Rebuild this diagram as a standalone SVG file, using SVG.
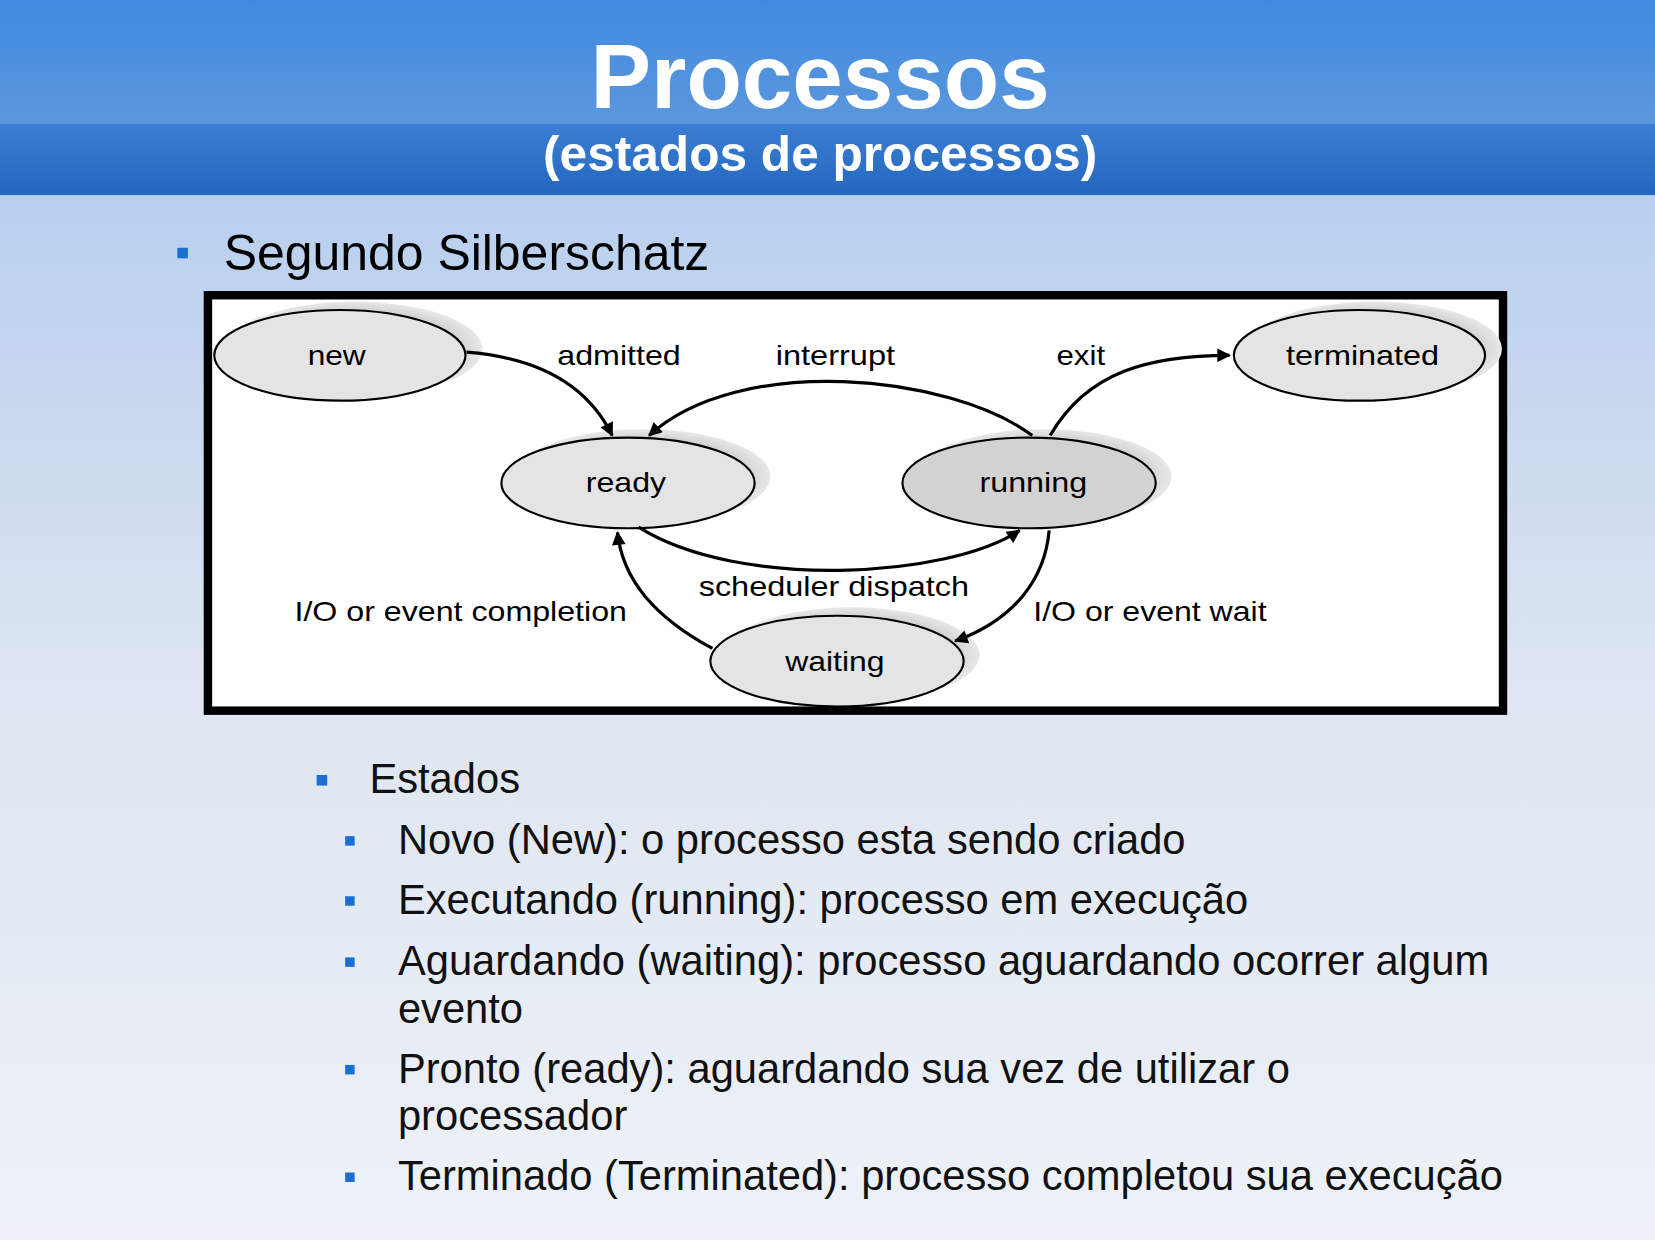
<svg xmlns="http://www.w3.org/2000/svg" width="1655" height="1240" viewBox="0 0 1655 1240">
<defs>
<linearGradient id="bg" x1="0" y1="0" x2="0" y2="1"><stop offset="0" stop-color="#a9c6ee"/><stop offset="0.55" stop-color="#dde5f0"/><stop offset="1" stop-color="#eef2f8"/></linearGradient>
<linearGradient id="hd1" x1="0" y1="0" x2="0" y2="1"><stop offset="0" stop-color="#3f8ae0"/><stop offset="1" stop-color="#5b97dc"/></linearGradient>
<linearGradient id="hd2" x1="0" y1="0" x2="0" y2="1"><stop offset="0" stop-color="#3a7fd3"/><stop offset="1" stop-color="#2566bf"/></linearGradient>
<radialGradient id="sh" cx="0.5" cy="0.5" r="0.5"><stop offset="0.6" stop-color="#b8b8b8"/><stop offset="1" stop-color="#e8e8e8"/></radialGradient>
<marker id="ah" viewBox="0 0 10 10" refX="9" refY="5" markerWidth="16" markerHeight="13" orient="auto" markerUnits="userSpaceOnUse"><path d="M0,0 L10,5 L0,10 z" fill="#000"/></marker>
<style>
.t{font-family:"Liberation Sans",Arial,sans-serif;fill:#000}
.n{font-family:"Liberation Sans",Arial,sans-serif;font-size:26px;fill:#000;text-anchor:middle}
.l{font-family:"Liberation Sans",Arial,sans-serif;font-size:26px;fill:#000}
.e{fill:#e4e4e4;stroke:#000;stroke-width:2}
.s{fill:url(#sh)}
.c{fill:none;stroke:#000;stroke-width:3;marker-end:url(#ah)}
.b{fill:#1a6fd1}
.li{font-family:"Liberation Sans",Arial,sans-serif;font-size:39.5px;fill:#111}
</style>
</defs>
<g transform="scale(1.05548 1.0544)">
<rect width="1568" height="1176" fill="url(#bg)"/>
<rect width="1568" height="117" fill="url(#hd1)"/>
<rect y="117" width="1568" height="68" fill="url(#hd2)"/>
<text x="777" y="102" text-anchor="middle" font-family="Liberation Sans,Arial,sans-serif" font-weight="bold" font-size="86" fill="#fff">Processos</text>
<text x="777" y="162" text-anchor="middle" font-family="Liberation Sans,Arial,sans-serif" font-weight="bold" font-size="47" fill="#fff">(estados de processos)</text>
<rect class="b" x="168" y="235" width="10" height="10"/>
<text class="t" x="212" y="256" font-size="47.3">Segundo Silberschatz</text>
<rect x="197" y="280" width="1227" height="394" fill="#fff" stroke="#000" stroke-width="8"/>
<g id="new"><ellipse class="s" cx="336" cy="331" rx="121" ry="45"/><ellipse class="e" cx="322" cy="337" rx="119" ry="43"/><text class="n" x="319" y="346" textLength="55" lengthAdjust="spacingAndGlyphs">new</text></g>
<g id="ready"><ellipse class="s" cx="609" cy="452" rx="121" ry="45"/><ellipse class="e" cx="595" cy="458" rx="120" ry="43"/><text class="n" x="593" y="467" textLength="76" lengthAdjust="spacingAndGlyphs">ready</text></g>
<g id="running"><ellipse class="s" cx="989" cy="452" rx="121" ry="45"/><ellipse class="e" cx="975" cy="458" rx="120" ry="43" style="fill:#d2d2d2"/><text class="n" x="979" y="467" textLength="102" lengthAdjust="spacingAndGlyphs">running</text></g>
<g id="terminated"><ellipse class="s" cx="1302" cy="331" rx="121" ry="45"/><ellipse class="e" cx="1288" cy="337" rx="119" ry="43"/><text class="n" x="1291" y="346" textLength="145" lengthAdjust="spacingAndGlyphs">terminated</text></g>
<g id="waiting"><ellipse class="s" cx="807" cy="621" rx="121" ry="45"/><ellipse class="e" cx="793" cy="627" rx="120" ry="43"/><text class="n" x="791" y="636" textLength="94" lengthAdjust="spacingAndGlyphs">waiting</text></g>
<g id="connectors">
<path class="c" d="M442,334 C520,340 560,372 580,413"/>
<path class="c" d="M978,413 C900,355 700,335 615,413"/>
<path class="c" d="M605,500 C700,560 900,548 966,503"/>
<path class="c" d="M995,413 C1030,352 1090,337 1165,337"/>
<path class="c" d="M994,503 C990,550 960,588 905,608"/>
<path class="c" d="M675,615 C620,585 590,550 585,505"/>
<text class="l" x="528" y="346" textLength="117" lengthAdjust="spacingAndGlyphs">admitted</text>
<text class="l" x="735" y="346" textLength="113" lengthAdjust="spacingAndGlyphs">interrupt</text>
<text class="l" x="1001" y="346" textLength="46" lengthAdjust="spacingAndGlyphs">exit</text>
<text class="l" x="662" y="565" textLength="256" lengthAdjust="spacingAndGlyphs">scheduler dispatch</text>
<text class="l" x="279" y="589" textLength="315" lengthAdjust="spacingAndGlyphs">I/O or event completion</text>
<text class="l" x="979" y="589" textLength="221" lengthAdjust="spacingAndGlyphs">I/O or event wait</text>
</g>
<rect class="b" x="300" y="735" width="10" height="10"/>
<text class="li" x="350" y="752">Estados</text>
<rect class="b" x="327" y="793" width="9" height="9"/>
<text class="li" x="377" y="810">Novo (New): o processo esta sendo criado</text>
<rect class="b" x="327" y="850" width="9" height="9"/>
<text class="li" x="377" y="867">Executando (running): processo em execução</text>
<rect class="b" x="327" y="908" width="9" height="9"/>
<text class="li" x="377" y="925">Aguardando (waiting): processo aguardando ocorrer algum</text>
<text class="li" x="377" y="970">evento</text>
<rect class="b" x="327" y="1010" width="9" height="9"/>
<text class="li" x="377" y="1027">Pronto (ready): aguardando sua vez de utilizar o</text>
<text class="li" x="377" y="1072">processador</text>
<rect class="b" x="327" y="1112" width="9" height="9"/>
<text class="li" x="377" y="1129">Terminado (Terminated): processo completou sua execução</text>
</g>
</svg>
